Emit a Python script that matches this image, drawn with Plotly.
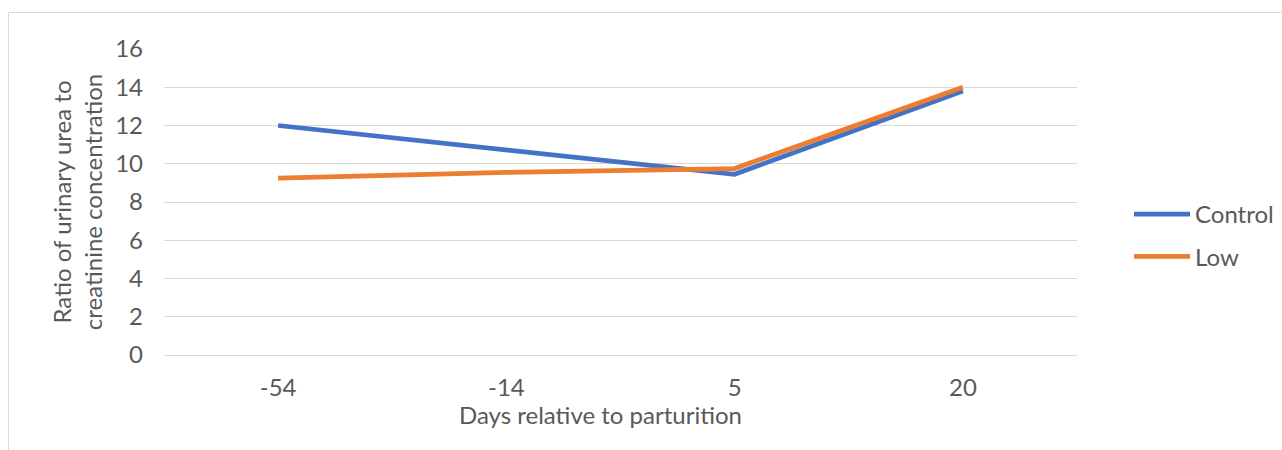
import plotly.graph_objects as go

# Days relative to parturition (categorical x axis)
days = ["-54", "-14", "5", "20"]

# Ratio of urinary urea to creatinine concentration
control = [12.0, 10.75, 9.45, 13.8]
low = [9.25, 9.55, 9.75, 14.0]

y_ticks = [0, 2, 4, 6, 8, 10, 12, 14, 16]

FONT = "Lato, Open Sans, sans-serif"
TEXT = "#595959"
GRID = "#d9d9d9"
FS = 24

W, H = 1282, 450
L, R, T, B = 164, 205, 49, 95
pw, ph = W - L - R, H - T - B


def px_x(p):
    return (p - L) / pw


def px_y(q):
    return (H - B - q) / ph


fig = go.Figure()
fig.add_trace(go.Scatter(x=days, y=control, mode="lines", name="Control",
                         line=dict(color="#4472C4", width=4.75),
                         legendgroup="a"))
fig.add_trace(go.Scatter(x=days, y=low, mode="lines", name="Low",
                         line=dict(color="#ED7D31", width=4.75),
                         legendgroup="b"))

# outer chart-area frame
fig.add_shape(type="rect", xref="paper", yref="paper",
              x0=px_x(8.5), x1=px_x(1290), y0=px_y(470), y1=px_y(12.5),
              line=dict(color=GRID, width=1), fillcolor="rgba(0,0,0,0)",
              layer="below")

# x-axis title
fig.add_annotation(text="Days relative to parturition", xref="paper",
                   yref="paper", x=px_x(600.5), y=px_y(414), xanchor="center",
                   yanchor="middle", showarrow=False,
                   font=dict(size=FS, color=TEXT, family=FONT))

fig.update_layout(
    width=W, height=H,
    margin=dict(l=L, r=R, t=T, b=B, autoexpand=False),
    paper_bgcolor="white", plot_bgcolor="white",
    font=dict(family=FONT, color=TEXT, size=FS),
    showlegend=True,
    legend=dict(x=px_x(1129), xanchor="left", y=px_y(192), itemwidth=56,
                yanchor="top", traceorder="grouped", tracegroupgap=8,
                font=dict(size=FS, color=TEXT), bgcolor="rgba(0,0,0,0)"),
    xaxis=dict(type="category", range=[-0.5, 3.5], showgrid=False,
               showline=False, zeroline=False, ticks="",
               ticklabelstandoff=16),
    yaxis=dict(range=[0, 16], tickvals=y_ticks, showgrid=True,
               gridcolor=GRID, gridwidth=1, zeroline=True, zerolinecolor=GRID,
               zerolinewidth=1, showline=False, ticks="",
               ticklabelstandoff=20,
               title=dict(text="Ratio of urinary urea to<br>creatinine concentration",
                          standoff=5, font=dict(size=FS))),
)

fig.write_html("out.html")
